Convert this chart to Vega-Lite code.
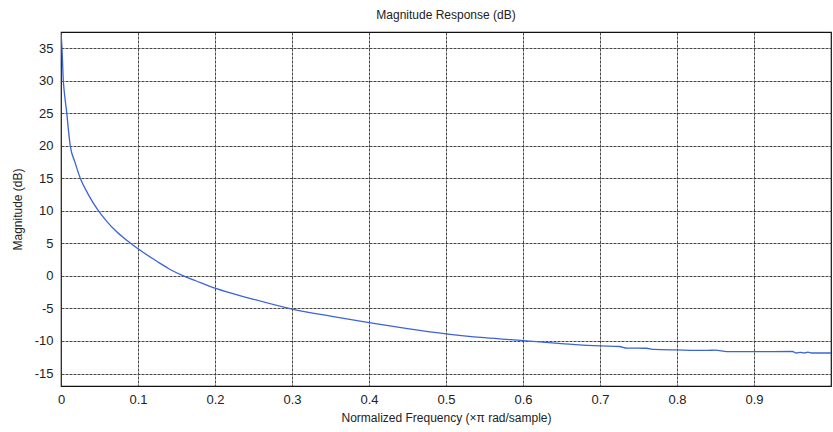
{
  "$schema": "https://vega.github.io/schema/vega-lite/v6.json",
  "width": 770,
  "height": 354,
  "autosize": {"type": "none"},
  "padding": {"left": 61, "top": 32, "right": 2, "bottom": 46},
  "background": "white",
  "title": {"text": "Magnitude Response (dB)", "font": "Liberation Sans", "fontSize": 12, "fontWeight": "normal", "color": "#222", "offset": 10},
  "config": {
    "view": {"stroke": "#111", "strokeWidth": 1.2},
    "axis": {
      "labelFont": "Liberation Sans", "labelFontSize": 13, "labelColor": "#222",
      "titleFont": "Liberation Sans", "titleFontSize": 12, "titleFontWeight": "normal", "titleColor": "#222",
      "grid": true, "gridColor": "#333", "gridWidth": 1, "gridDash": [3, 1], "gridOpacity": 0.9,
      "ticks": false, "domain": false
    }
  },
  "data": {"values": [
    {"f": 0.0, "db": 37.2},
    {"f": 0.0005, "db": 36.5},
    {"f": 0.0013, "db": 35},
    {"f": 0.003, "db": 30},
    {"f": 0.0045, "db": 28},
    {"f": 0.0075, "db": 25},
    {"f": 0.01, "db": 22},
    {"f": 0.012, "db": 20},
    {"f": 0.018, "db": 17.5},
    {"f": 0.025, "db": 15},
    {"f": 0.035, "db": 12.6},
    {"f": 0.048, "db": 10.1},
    {"f": 0.06, "db": 8.3},
    {"f": 0.072, "db": 6.8},
    {"f": 0.087, "db": 5.3},
    {"f": 0.1, "db": 4.15},
    {"f": 0.125, "db": 2.2},
    {"f": 0.14, "db": 1.1},
    {"f": 0.159, "db": 0},
    {"f": 0.175, "db": -0.75},
    {"f": 0.2, "db": -1.9},
    {"f": 0.25, "db": -3.6},
    {"f": 0.3, "db": -5.1},
    {"f": 0.35, "db": -6.2},
    {"f": 0.4, "db": -7.2},
    {"f": 0.45, "db": -8.1},
    {"f": 0.5, "db": -8.9},
    {"f": 0.55, "db": -9.5},
    {"f": 0.6, "db": -9.95},
    {"f": 0.65, "db": -10.4},
    {"f": 0.7, "db": -10.77},
    {"f": 0.725, "db": -10.85},
    {"f": 0.735, "db": -11.1},
    {"f": 0.76, "db": -11.12},
    {"f": 0.77, "db": -11.3},
    {"f": 0.8, "db": -11.38},
    {"f": 0.84, "db": -11.45},
    {"f": 0.85, "db": -11.4},
    {"f": 0.865, "db": -11.65},
    {"f": 0.9, "db": -11.65},
    {"f": 0.95, "db": -11.62},
    {"f": 0.955, "db": -11.85},
    {"f": 0.96, "db": -11.75},
    {"f": 0.965, "db": -11.85},
    {"f": 0.97, "db": -11.72},
    {"f": 0.975, "db": -11.85},
    {"f": 1.0, "db": -11.85}
  ]},
  "mark": {"type": "line", "color": "#3b64d6", "strokeWidth": 1.3, "clip": true, "interpolate": "monotone"},
  "encoding": {
    "x": {"field": "f", "type": "quantitative",
      "scale": {"domain": [0, 1], "nice": false, "zero": false},
      "axis": {"title": "Normalized Frequency (×π rad/sample)", "values": [0, 0.1, 0.2, 0.3, 0.4, 0.5, 0.6, 0.7, 0.8, 0.9], "labelPadding": 7, "titlePadding": 6, "labelFlush": false, "format": "~g"}},
    "y": {"field": "db", "type": "quantitative",
      "scale": {"domain": [-16.92, 37.46], "nice": false, "zero": false},
      "axis": {"title": "Magnitude (dB)", "values": [-15, -10, -5, 0, 5, 10, 15, 20, 25, 30, 35], "labelPadding": 8, "titlePadding": 10, "labelFlush": false, "labelExpr": "toString(datum.value)"}}
  }
}
